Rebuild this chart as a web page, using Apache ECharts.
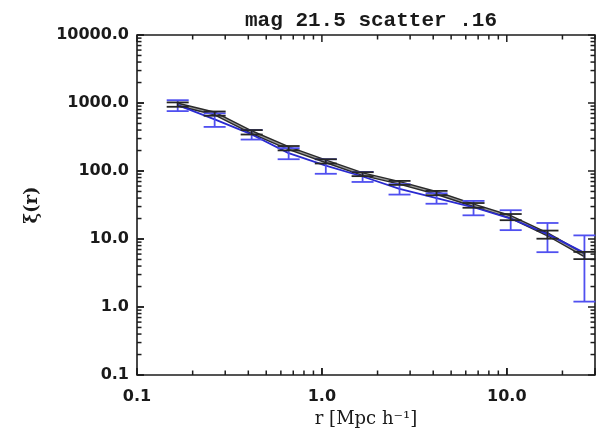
<!DOCTYPE html>
<html>
<head>
<meta charset="utf-8">
<script src="https://cdn.jsdelivr.net/npm/echarts@6/dist/echarts.min.js"></script>
<style>
  html, body { margin: 0; padding: 0; background: #fff; }
  #chart { width: 603px; height: 433px; }
</style>
</head>
<body>
<div id="chart"></div>
<script>
// Separation bins r [Mpc/h] and the correlation function measured in each
const radii = [0.166, 0.263, 0.417, 0.661, 1.05, 1.66, 2.63, 4.17, 6.61, 10.5, 16.6, 26.3];

// Black: reference measurement
const xiBlack = [950, 700, 372, 217, 139, 90, 67, 47.5, 31.3, 21.1, 11.7, 5.76];
const errBlack = [70, 50, 28, 16, 10, 6, 4.5, 3.5, 2.5, 2.2, 1.6, 0.7];

// Blue: sample with magnitude scatter applied
const xiBlue = [930, 575, 345, 183, 120, 83, 54.5, 40, 29.3, 20, 11.8, 6.25];
const errBlue = [170, 130, 55, 34, 29, 14, 9.5, 7, 7, 6.5, 5.4, 5.05];

// Axis ranges and labelled ticks
const xRange = [0.1, 30];
const yRange = [0.1, 10000];
const xTickValues = [0.1, 1, 10];
const xTickLabels = ['0.1', '1.0', '10.0'];
const yTickValues = [0.1, 1, 10, 100, 1000, 10000];
const yTickLabels = ['0.1', '1.0', '10.0', '100.0', '1000.0', '10000.0'];
const minorSteps = [2, 3, 4, 5, 6, 7, 8, 9];

function labelFor(values, labels) {
  return function (v) {
    for (let i = 0; i < values.length; i++) {
      if (Math.abs(Math.log10(v) - Math.log10(values[i])) < 1e-6) return labels[i];
    }
    return '';
  };
}

// Major (decade) and minor (2..9) tick positions inside a range
function logTicks(range) {
  const out = [];
  const e0 = Math.floor(Math.log10(range[0]) + 1e-9);
  const e1 = Math.floor(Math.log10(range[1]) + 1e-9);
  for (let e = e0; e <= e1; e++) {
    const base = Math.pow(10, e);
    out.push([base, 1]);
    minorSteps.forEach(function (m) { out.push([m * base, 0]); });
  }
  return out.filter(function (d) { return d[0] >= range[0] * 0.999 && d[0] <= range[1] * 1.001; });
}

// Frame tick rows: [x, y, isMajor, side]  (side 0 bottom, 1 top, 2 left, 3 right)
const tickRows = [];
logTicks(xRange).forEach(function (t) {
  tickRows.push([t[0], yRange[0], t[1], 0]);
  tickRows.push([t[0], yRange[1], t[1], 1]);
});
logTicks(yRange).forEach(function (t) {
  tickRows.push([xRange[0], t[0], t[1], 2]);
  tickRows.push([xRange[1], t[0], t[1], 3]);
});

const errBlackData = radii.map(function (r, i) { return [r, xiBlack[i] - errBlack[i], xiBlack[i] + errBlack[i]]; });
const errBlueData = radii.map(function (r, i) { return [r, xiBlue[i] - errBlue[i], xiBlue[i] + errBlue[i]]; });

const TICK_MAJOR = 7, TICK_MINOR = 4.5, CAP = 11;
const frameColor = '#1c1c1c';

function tickShape(p, major, side) {
  const len = major ? TICK_MAJOR : TICK_MINOR;
  if (side === 0) return { x1: p[0], y1: p[1], x2: p[0], y2: p[1] - len };
  if (side === 1) return { x1: p[0], y1: p[1], x2: p[0], y2: p[1] + len };
  if (side === 2) return { x1: p[0], y1: p[1], x2: p[0] + len, y2: p[1] };
  return { x1: p[0], y1: p[1], x2: p[0] - len, y2: p[1] };
}

function renderTick(params, api) {
  const p = api.coord([api.value(0), api.value(1)]);
  return {
    type: 'line',
    shape: tickShape(p, api.value(2), api.value(3)),
    style: { stroke: frameColor, lineWidth: 1.5 }
  };
}

function errorBars(color, width) {
  return function (params, api) {
    const lo = api.coord([api.value(0), api.value(1)]);
    const hi = api.coord([api.value(0), api.value(2)]);
    const st = { stroke: color, lineWidth: width };
    return { type: 'group', children: [
      { type: 'line', shape: { x1: lo[0], y1: lo[1], x2: hi[0], y2: hi[1] }, style: st },
      { type: 'line', shape: { x1: lo[0] - CAP, y1: lo[1], x2: lo[0] + CAP, y2: lo[1] }, style: st },
      { type: 'line', shape: { x1: hi[0] - CAP, y1: hi[1], x2: hi[0] + CAP, y2: hi[1] }, style: st }
    ] };
  };
}

const majorTick = { show: true, inside: true, length: TICK_MAJOR, lineStyle: { color: frameColor, width: 1.5 } };

const chart = echarts.init(document.getElementById('chart'), null, { renderer: 'canvas' });

chart.setOption({
  animation: false,
  title: {
    text: 'mag 21.5 scatter .16',
    left: 366,
    textAlign: 'center',
    top: 5,
    textStyle: { fontFamily: 'Liberation Mono', fontSize: 21, fontWeight: 'bold', color: '#1a1a1a' }
  },
  grid: {
    left: 137, right: 8, top: 35, bottom: 58,
    show: true, borderColor: frameColor, borderWidth: 1.6
  },
  xAxis: {
    type: 'log', logBase: 10, min: xRange[0], max: xRange[1],
    axisLine: { show: false }, axisTick: majorTick, splitLine: { show: false },
    axisLabel: {
      formatter: labelFor(xTickValues, xTickLabels), margin: 14,
      fontFamily: 'DejaVu Sans', fontSize: 16, fontWeight: 'bold', color: '#1a1a1a'
    },
    name: 'r [Mpc h⁻¹]', nameLocation: 'middle', nameGap: 32,
    nameTextStyle: { fontFamily: 'DejaVu Serif', fontSize: 18, color: '#1a1a1a' }
  },
  yAxis: {
    type: 'log', logBase: 10, min: yRange[0], max: yRange[1],
    axisLine: { show: false }, axisTick: majorTick, splitLine: { show: false },
    axisLabel: {
      formatter: labelFor(yTickValues, yTickLabels), margin: 8,
      fontFamily: 'DejaVu Sans', fontSize: 16, fontWeight: 'bold', color: '#1a1a1a',
      padding: [6, 0, 0, 0]
    },
    name: 'ξ(r)', nameLocation: 'middle', nameRotate: 90, nameGap: 96,
    nameTextStyle: { fontFamily: 'DejaVu Serif', fontSize: 18, fontWeight: 'bold', color: '#1a1a1a' }
  },
  series: [
    {
      type: 'line', name: 'black', data: radii.map(function (r, i) { return [r, xiBlack[i]]; }),
      showSymbol: false, lineStyle: { color: '#2a2a2a', width: 4 }, z: 2
    },
    {
      type: 'line', name: 'black core', data: radii.map(function (r, i) { return [r, xiBlack[i]]; }),
      showSymbol: false, lineStyle: { color: '#9a9a9a', width: 1.2 }, z: 3
    },
    {
      type: 'line', name: 'blue', data: radii.map(function (r, i) { return [r, xiBlue[i]]; }),
      showSymbol: false, lineStyle: { color: '#2a2ad0', width: 1.8 }, z: 4
    },
    { type: 'custom', name: 'blue errors', renderItem: errorBars('#5050f0', 1.8), data: errBlueData, z: 5 },
    { type: 'custom', name: 'black errors', renderItem: errorBars('#262626', 1.8), data: errBlackData, z: 6 },
    { type: 'custom', name: 'frame ticks', renderItem: renderTick, data: tickRows, z: 7 }
  ]
});
</script>
</body>
</html>
